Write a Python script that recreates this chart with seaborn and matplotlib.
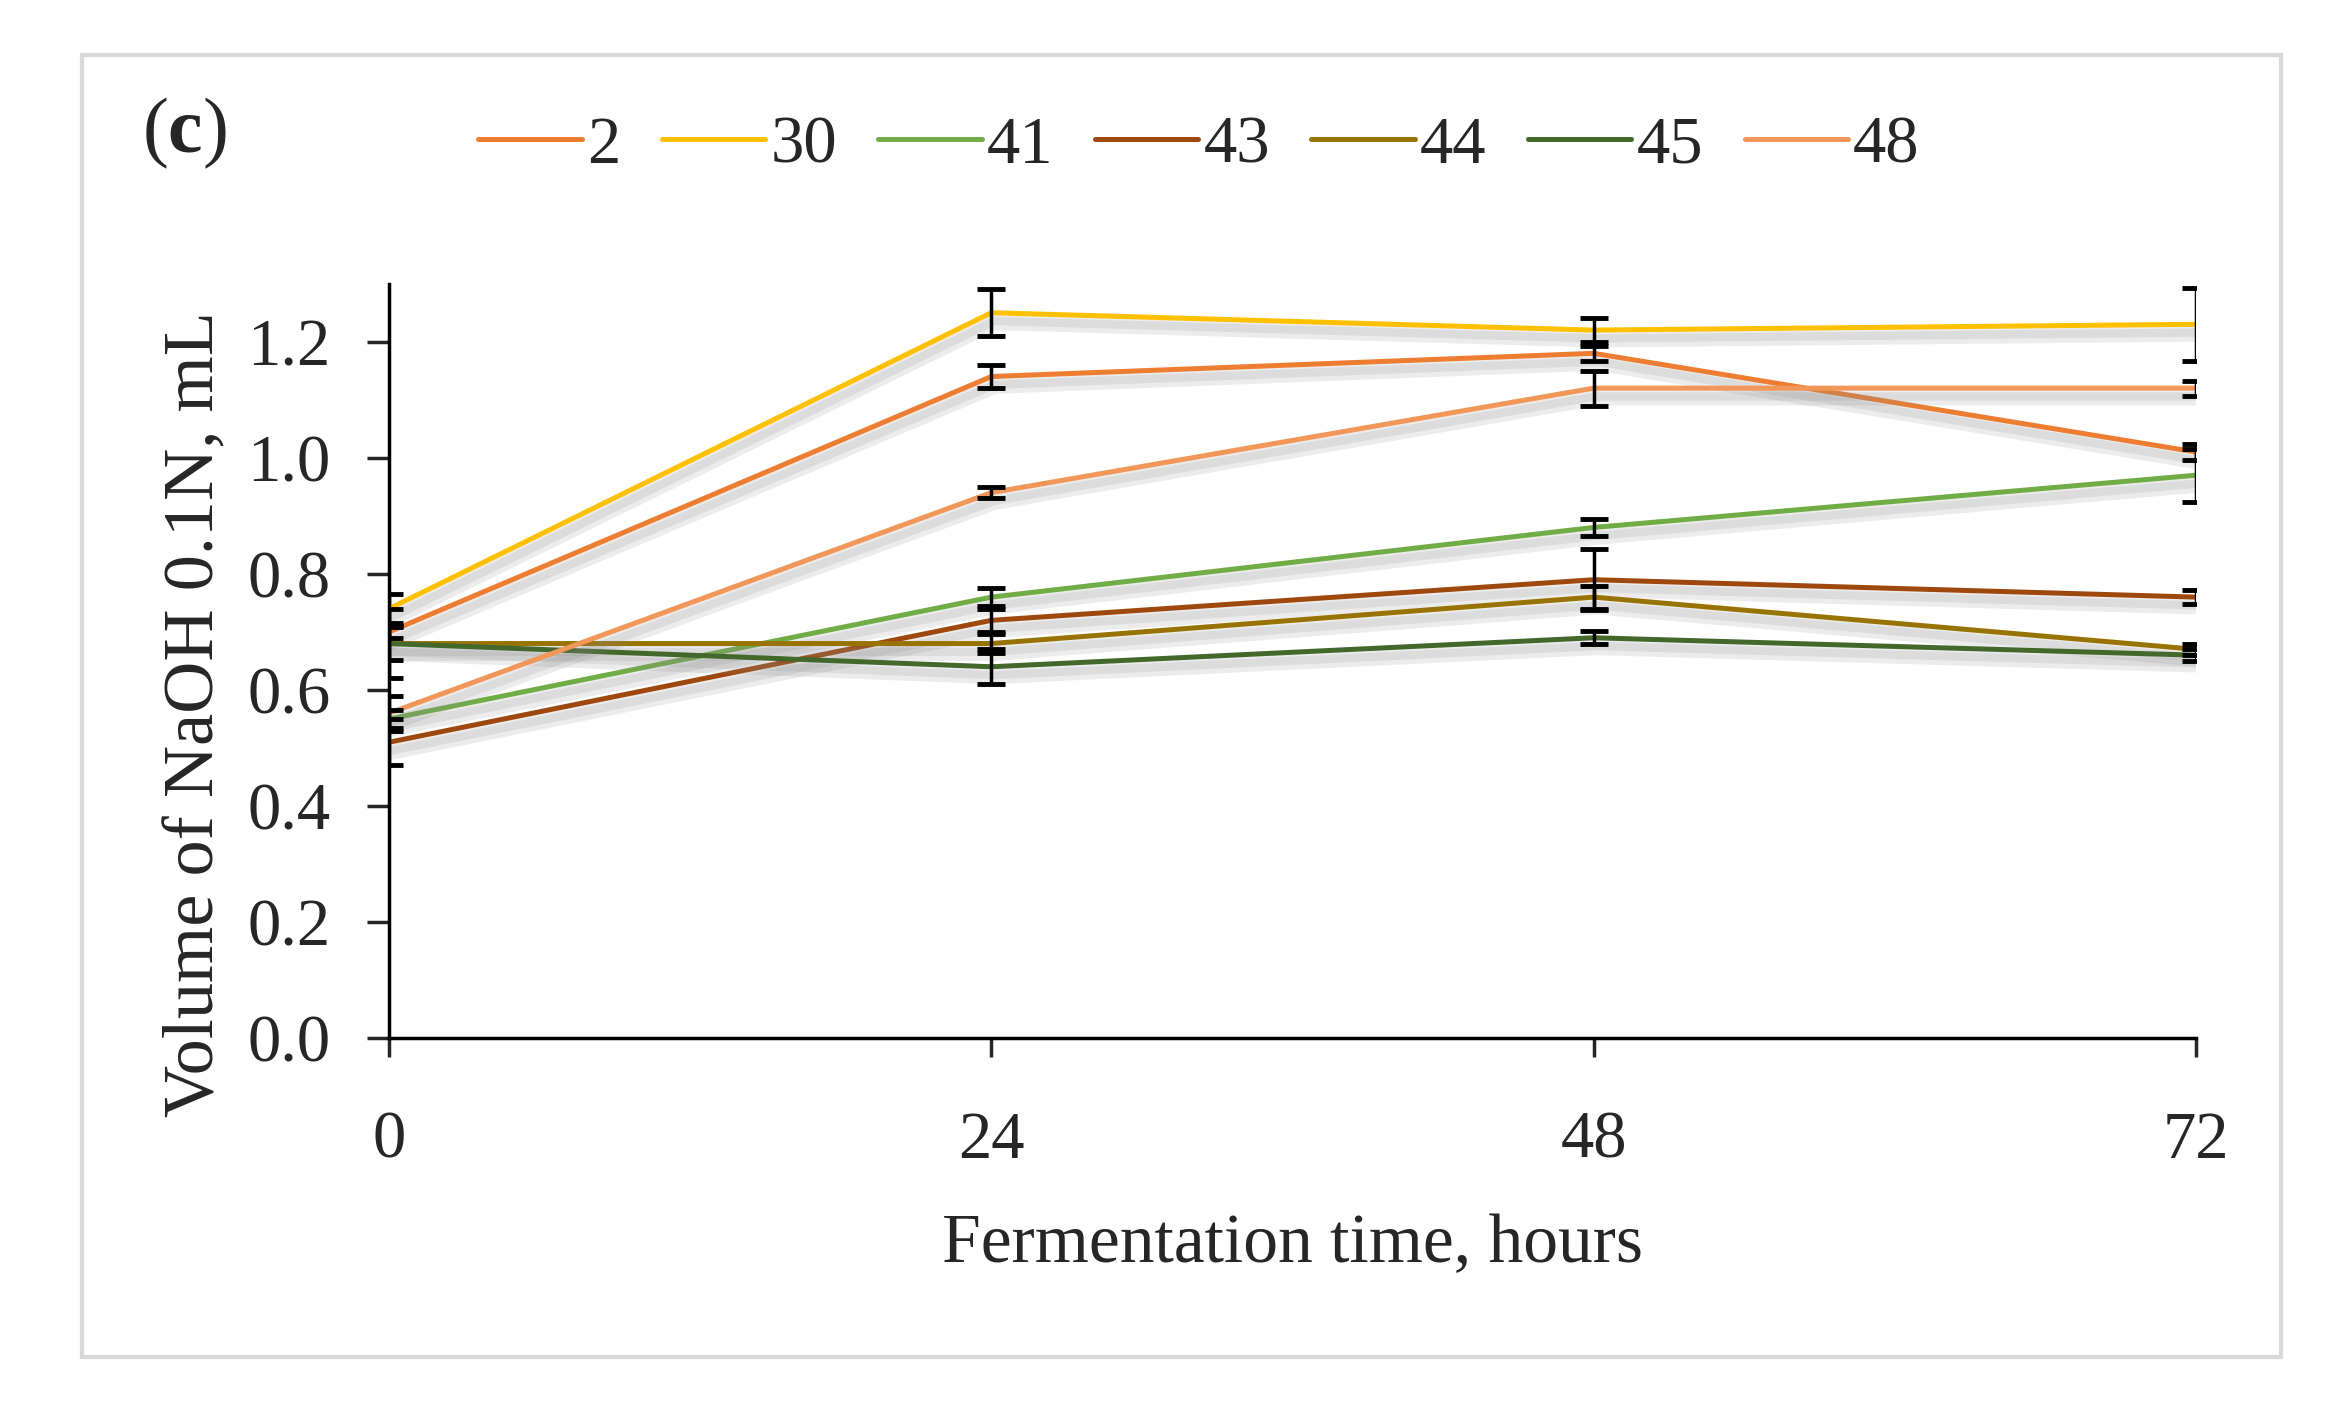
import numpy as np
import pandas as pd
import matplotlib
matplotlib.use("Agg")
import matplotlib.pyplot as plt
import matplotlib.patheffects as pe
from matplotlib.patches import Rectangle
from matplotlib.ticker import FormatStrFormatter
import seaborn as sns

# ---------------- data ----------------
times = [0, 24, 48, 72]
strains = ["2", "30", "41", "43", "44", "45", "48"]

v2 = [0.70, 1.14, 1.18, 1.01]
v30 = [0.74, 1.25, 1.22, 1.23]
v41 = [0.55, 0.76, 0.88, 0.97]
v43 = [0.51, 0.72, 0.79, 0.76]
v44 = [0.68, 0.68, 0.76, 0.67]
v45 = [0.68, 0.64, 0.69, 0.66]
v48 = [0.56, 0.94, 1.12, 1.12]

e2 = [0.01, 0.02, 0.013, 0.013]
e30 = [0.025, 0.04, 0.02, 0.063]
e41 = [0.015, 0.015, 0.014, 0.046]
e43 = [0.04, 0.02, 0.053, 0.012]
e44 = [0.028, 0.017, 0.02, 0.01]
e45 = [0.06, 0.03, 0.011, 0.01]
e48 = [0.03, 0.009, 0.03, 0.013]

colors = ["#ED7D31", "#FFC000", "#70AD47", "#9E480E", "#997300", "#43682B", "#F1975A"]

values = [v2, v30, v41, v43, v44, v45, v48]
errors = [e2, e30, e41, e43, e44, e45, e48]

rows = []
for s, vals, errs in zip(strains, values, errors):
    for t, v, e in zip(times, vals, errs):
        rows.append({"time": t, "strain": s, "value": v, "err": e})
df = pd.DataFrame(rows)

# ---------------- style ----------------
sns.set_style("ticks")
plt.rcParams["font.family"] = ["Liberation Serif", "DejaVu Serif"]
plt.rcParams["mathtext.fontset"] = "custom"
plt.rcParams["mathtext.rm"] = "Liberation Serif"
plt.rcParams["mathtext.bf"] = "Liberation Serif:bold"

fig = plt.figure(figsize=(23.35, 14.19), dpi=100)
ax = fig.add_axes([0.1666, 0.2683, 0.9405 - 0.1666, 0.5318])

palette = dict(zip(strains, colors))
sns.lineplot(data=df, x="time", y="value", hue="strain", hue_order=strains,
             palette=palette, linewidth=3.6, ax=ax, legend=True,
             errorbar=None, zorder=3)

shadow = [pe.SimpleLineShadow(offset=(2, -6), shadow_color="#8a8a8a", alpha=0.16, linewidth=13),
          pe.SimpleLineShadow(offset=(2, -6), shadow_color="#8a8a8a", alpha=0.16, linewidth=6),
          pe.Normal()]
for line in ax.get_lines():
    line.set_path_effects(shadow)

# error bars
for s in strains:
    sub = df[df["strain"] == s]
    ax.errorbar(sub["time"], sub["value"], yerr=sub["err"], fmt="none",
                ecolor="black", elinewidth=2.5, capsize=10, capthick=3.5,
                zorder=4, clip_on=True)

ax.set_xlim(0, 72)
ax.set_ylim(0, 1.3)
ax.set_xticks(times)
ax.set_yticks([0.0, 0.2, 0.4, 0.6, 0.8, 1.0, 1.2])
ax.yaxis.set_major_formatter(FormatStrFormatter("%.1f"))

for sp in ["top", "right"]:
    ax.spines[sp].set_visible(False)
for sp in ["left", "bottom"]:
    ax.spines[sp].set_linewidth(2.5)
    ax.spines[sp].set_color("black")

ax.tick_params(axis="x", direction="out", length=14, width=2.5, pad=38, labelsize=48)
ax.tick_params(axis="y", direction="out", length=16, width=2.5, pad=26, labelsize=48)

ax.set_xlabel("Fermentation time, hours", fontsize=50, labelpad=30)
ax.set_ylabel("Volume of NaOH 0.1N, mL", fontsize=52)
ax.yaxis.set_label_coords(-0.089, 0.43)

# legend
handles, labels = ax.get_legend_handles_labels()
if ax.legend_ is not None:
    ax.legend_.remove()
leg = fig.legend(handles, labels, loc="center", bbox_to_anchor=(0.5135, 0.897),
                 ncol=7, frameon=False, fontsize=48, handlelength=1.55,
                 handletextpad=0.08, columnspacing=0.62)
for h in leg.legend_handles:
    h.set_linewidth(3.6)
    h.set_path_effects([])

fig.text(0.061, 0.906, r"($\mathbf{c}$)", fontsize=56, ha="left", va="center")

# outer frame
fig.patches.append(Rectangle((82 / 2335, 1 - 1357 / 1419), (2281 - 82) / 2335, (1357 - 55) / 1419,
                             transform=fig.transFigure, fill=False, edgecolor="#D9D9D9",
                             linewidth=3))

fig.savefig("out.png", dpi=100, facecolor="white")
